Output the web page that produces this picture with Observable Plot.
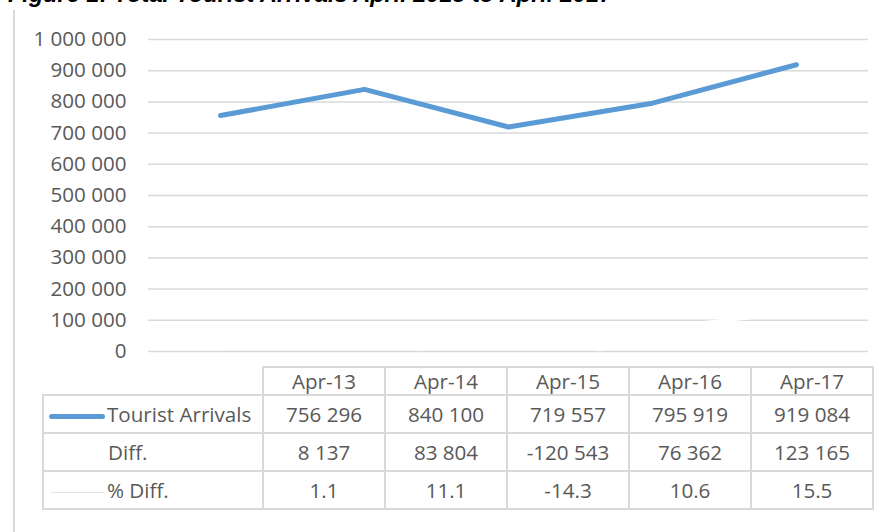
<!DOCTYPE html>
<html>
<head>
<meta charset="utf-8">
<script src="https://cdn.jsdelivr.net/npm/d3@7"></script>
<script src="https://cdn.jsdelivr.net/npm/@observablehq/plot@0.6"></script>
<style>
  html, body { margin: 0; padding: 0; background: #fff; }
  #wrap { position: relative; width: 888px; height: 532px; overflow: hidden; font-family: "Open Sans", sans-serif; color: #595959; }
  #title { position: absolute; left: 8px; top: -17px; font: bold italic 23.5px "Liberation Sans", Arial, sans-serif; line-height: 23.5px; color: #000; white-space: nowrap; }
  #frame { position: absolute; left: 13px; top: 10px; width: 0; height: 540px; border-left: 2px solid #d9d9d9; }
  #chart { position: absolute; left: 0; top: 0; }
  #tbl { position: absolute; left: 42px; top: 366px; border-collapse: collapse; font-size: 20.6px; color: #595959; }
  #tbl td { border: 2px solid #d9d9d9; text-align: center; padding: 0; width: 120px; }
  #tbl td.lab { width: 218px; text-align: left; white-space: nowrap; }
  #tbl td.empty { border-top: none; border-left: none; }
  #tbl tr.h td { height: 26px; line-height: 26px; }
  #tbl tr.r td { height: 36px; line-height: 36px; }
  .sw { display: inline-block; vertical-align: middle; border-radius: 3px; }
</style>
</head>
<body>
<div id="wrap">
  <div id="title"></div>
  <div id="frame"></div>
  <div id="chart"></div>
  <table id="tbl"></table>
</div>
<script>
const titleText = "Figure 1: Total Tourist Arrivals April 2013 to April 2017";
const periods = ["Apr-13", "Apr-14", "Apr-15", "Apr-16", "Apr-17"];
const arrivals = [756296, 840100, 719557, 795919, 919084];
const diffs = [8137, 83804, -120543, 76362, 123165];
const pctDiffs = [1.1, 11.1, -14.3, 10.6, 15.5];
const yTicks = [0, 100000, 200000, 300000, 400000, 500000, 600000, 700000, 800000, 900000, 1000000];
const seriesNames = ["Tourist Arrivals", "Diff.", "% Diff."];

const loc = d3.formatLocale({decimal: ".", thousands: " ", grouping: [3], currency: ["", ""], minus: "-"});
const fmtInt = loc.format(",");
const fmtPct = loc.format(".1f");

document.getElementById("title").textContent = titleText;

const rows = periods.map((p, i) => ({period: p, arrivals: arrivals[i], diff: diffs[i], pct: pctDiffs[i]}));

const chart = Plot.plot({
  width: 888,
  height: 365,
  marginLeft: 148,
  marginRight: 20,
  marginTop: 39,
  marginBottom: 14,
  style: {fontFamily: "Open Sans, sans-serif", fontSize: "20.6px", color: "#595959", background: "transparent", overflow: "visible"},
  x: {type: "point", domain: periods, padding: 0.5, axis: null},
  y: {domain: [0, 1000000], axis: null},
  marks: [
    Plot.gridY(yTicks, {stroke: "#d9d9d9", strokeOpacity: 1, strokeWidth: 1.5}),
    Plot.line(rows, {x: "period", y: "pct", stroke: "#e6e6e6", strokeWidth: 1.5, clip: true}),
    Plot.line(rows, {x: "period", y: "diff", stroke: "#ffffff", strokeWidth: 3, clip: true}),
    Plot.line(rows, {x: "period", y: "arrivals", stroke: "#5b9bd5", strokeWidth: 5, strokeLinecap: "round", strokeLinejoin: "round"}),
    Plot.axisY(yTicks, {tickSize: 0, tickPadding: 22, tickFormat: fmtInt, label: null, fill: "#595959"})
  ]
});
document.getElementById("chart").appendChild(chart);

// data table
const tbl = document.getElementById("tbl");
let html = '<tr class="h"><td class="lab empty"></td>' + periods.map(p => `<td>${p}</td>`).join("") + "</tr>";
const swatches = [
  '<span class="sw" style="width:56px;height:5px;background:#5b9bd5;margin-left:5px;margin-right:2px;"></span>',
  '<span class="sw" style="width:56px;height:5px;background:transparent;margin-left:5px;margin-right:3px;"></span>',
  '<span class="sw" style="width:53px;height:1.5px;background:#e3e3e3;margin-left:7px;margin-right:3px;"></span>'
];
const vals = [arrivals.map(fmtInt), diffs.map(fmtInt), pctDiffs.map(fmtPct)];
seriesNames.forEach((name, k) => {
  html += `<tr class="r"><td class="lab">${swatches[k]}${name}</td>` + vals[k].map(v => `<td>${v}</td>`).join("") + "</tr>";
});
tbl.innerHTML = html;
</script>
</body>
</html>
